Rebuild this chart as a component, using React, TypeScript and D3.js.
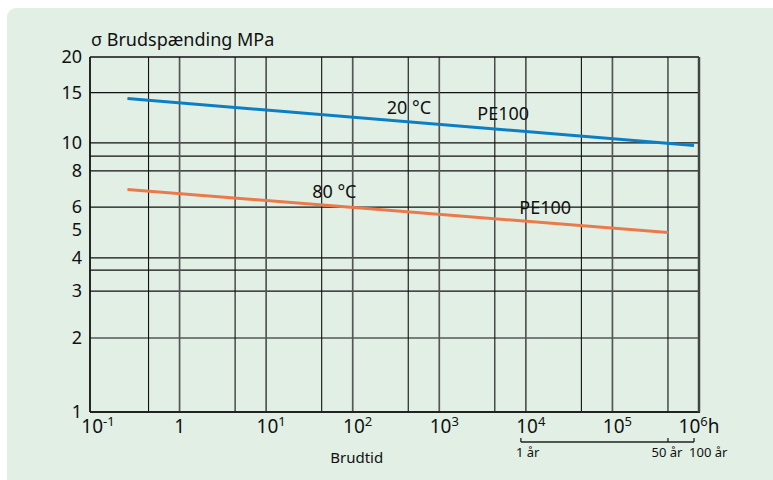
import React, { useEffect, useRef } from 'react';
import * as d3 from 'd3';

const width = 773;
const height = 480;

// stress axis (MPa)
const yTickLabels = [1, 2, 3, 4, 5, 6, 8, 10, 15, 20];
const yGridValues = [2, 3, 3.6, 4, 6, 8, 9, 10, 15];

// time axis (hours), decade exponents and the minor lines in between
const xDecades = [-1, 0, 1, 2, 3, 4, 5, 6];
const xMinorGrid = [0.438, 4.38, 43.8, 438, 4380, 43800, 438000];

// curves: [hours, MPa]
const pe100At20 = [[0.25, 14.3], [876000, 9.8]];
const pe100At80 = [[0.25, 6.9], [438000, 4.9]];

// curve annotations: [hours, MPa, text]
const curveLabels = [
  [247, 12.6, '20 °C'],
  [2750, 12.0, 'PE100'],
  [34, 6.47, '80 °C'],
  [8400, 5.67, 'PE100'],
];

// service life marks under the time axis
const yearHours = [8760, 438000, 876000];
const yearLabels = ['1 år', '50 år', '100 år'];

const FONT = '"Noto Sans", "Open Sans", sans-serif';

const App = () => {
  const svgRef = useRef(null);

  useEffect(() => {
    const svg = d3.select(svgRef.current);
    svg.selectAll('*').remove();

    const margin = { top: 57, right: 74, bottom: 68, left: 90 };
    const innerBottom = height - margin.bottom;
    const innerRight = width - margin.right;
    const innerH = innerBottom - margin.top;

    // panel background
    svg.append('rect')
      .attr('x', 7)
      .attr('y', 8)
      .attr('width', width + 20)
      .attr('height', height + 20)
      .attr('rx', 9)
      .attr('fill', '#e1efe5');

    // time scale starts a little inside the frame
    const x = d3.scaleLog()
      .domain([0.1, 1e6])
      .range([margin.left + 3, innerRight]);

    // the printed stress scale is not quite logarithmic: calibrate piecewise
    const y = d3.scaleLog()
      .domain([1, 2, 4, 10, 20])
      .range([
        innerBottom,
        innerBottom - innerH * 0.2085,
        innerBottom - innerH * 0.434,
        innerBottom - innerH * 0.758,
        margin.top,
      ]);

    const g = svg.append('g');

    // horizontal grid
    g.selectAll('.hgrid')
      .data(yGridValues)
      .enter()
      .append('line')
      .attr('x1', margin.left)
      .attr('x2', innerRight)
      .attr('y1', d => y(d))
      .attr('y2', d => y(d))
      .attr('stroke', '#111')
      .attr('stroke-width', 1.2);

    // minor vertical grid
    g.selectAll('.vminor')
      .data(xMinorGrid)
      .enter()
      .append('line')
      .attr('x1', d => x(d))
      .attr('x2', d => x(d))
      .attr('y1', margin.top)
      .attr('y2', innerBottom)
      .attr('stroke', '#111')
      .attr('stroke-width', 1.1);

    // decade lines
    g.selectAll('.vmajor')
      .data(xDecades.filter(e => e > -1 && e < 6))
      .enter()
      .append('line')
      .attr('x1', d => x(Math.pow(10, d)))
      .attr('x2', d => x(Math.pow(10, d)))
      .attr('y1', margin.top)
      .attr('y2', innerBottom)
      .attr('stroke', '#555')
      .attr('stroke-width', 1.7);

    // frame
    g.append('line')
      .attr('x1', margin.left).attr('x2', innerRight)
      .attr('y1', margin.top).attr('y2', margin.top)
      .attr('stroke', '#111').attr('stroke-width', 1.5);
    g.append('line')
      .attr('x1', margin.left).attr('x2', innerRight + 1)
      .attr('y1', innerBottom).attr('y2', innerBottom)
      .attr('stroke', '#222').attr('stroke-width', 2);
    g.append('line')
      .attr('x1', margin.left).attr('x2', margin.left)
      .attr('y1', margin.top).attr('y2', innerBottom)
      .attr('stroke', '#111').attr('stroke-width', 1.8);
    g.append('line')
      .attr('x1', innerRight).attr('x2', innerRight)
      .attr('y1', margin.top).attr('y2', innerBottom)
      .attr('stroke', '#444').attr('stroke-width', 2.5);

    // curves
    const line = d3.line()
      .x(d => x(d[0]))
      .y(d => y(d[1]));

    g.append('path')
      .datum(pe100At20)
      .attr('fill', 'none')
      .attr('stroke', '#0b7fc4')
      .attr('stroke-width', 3)
      .attr('d', line);

    g.append('path')
      .datum(pe100At80)
      .attr('fill', 'none')
      .attr('stroke', '#eb7a4b')
      .attr('stroke-width', 3)
      .attr('d', line);

    // curve labels
    g.selectAll('.clabel')
      .data(curveLabels)
      .enter()
      .append('text')
      .attr('x', d => x(d[0]))
      .attr('y', d => y(d[1]))
      .attr('font-family', FONT)
      .attr('font-size', 18)
      .attr('fill', '#111')
      .text(d => d[2]);

    // y tick labels
    g.selectAll('.ylabel')
      .data(yTickLabels)
      .enter()
      .append('text')
      .attr('x', margin.left - 8)
      .attr('y', d => y(d))
      .attr('dy', '0.35em')
      .attr('text-anchor', 'end')
      .attr('font-family', FONT)
      .attr('font-size', 18)
      .attr('fill', '#111')
      .text(d => d);

    // x tick labels with superscript exponents
    xDecades.forEach(e => {
      const t = g.append('text')
        .attr('x', x(Math.pow(10, e)) + (e === 6 ? 0 : 5))
        .attr('y', innerBottom + 21)
        .attr('text-anchor', 'middle')
        .attr('font-family', FONT)
        .attr('font-size', 19)
        .attr('fill', '#111');
      if (e === 0) {
        t.text('1');
        t.attr('x', x(1));
        return;
      }
      t.append('tspan').text('10');
      t.append('tspan')
        .attr('dy', -7)
        .attr('font-size', 13)
        .text(e === -1 ? '-1' : String(e));
      if (e === 6) {
        t.append('tspan').attr('dy', 7).text('h');
      }
    });

    // axis titles
    svg.append('text')
      .attr('x', margin.left + 1)
      .attr('y', 46)
      .attr('font-family', FONT)
      .attr('font-size', 18)
      .attr('fill', '#111')
      .text('σ Brudspænding MPa');

    svg.append('text')
      .attr('x', x(100) + 4)
      .attr('y', 463)
      .attr('text-anchor', 'middle')
      .attr('font-family', FONT)
      .attr('font-size', 15)
      .attr('fill', '#111')
      .text('Brudtid');

    // year bracket
    const by = innerBottom + 30;
    const bracket = svg.append('g');
    bracket.append('line')
      .attr('x1', x(yearHours[0]))
      .attr('x2', x(yearHours[2]))
      .attr('y1', by)
      .attr('y2', by)
      .attr('stroke', '#222')
      .attr('stroke-width', 1.5);
    yearHours.forEach((h, i) => {
      bracket.append('line')
        .attr('x1', x(h))
        .attr('x2', x(h))
        .attr('y1', by - 4)
        .attr('y2', by)
        .attr('stroke', '#222')
        .attr('stroke-width', 1.3);
      bracket.append('text')
        .attr('x', i === 1 ? x(h) - 1 : x(h) - 5)
        .attr('y', by + 15)
        .attr('text-anchor', i === 1 ? 'middle' : 'start')
        .attr('font-family', FONT)
        .attr('font-size', 13)
        .attr('fill', '#111')
        .text(yearLabels[i]);
    });
  }, []);

  return (
    <svg
      ref={svgRef}
      width={width}
      height={height}
      style={{ position: 'absolute', left: 0, top: 0, background: '#fff' }}
    />
  );
};

export default App;
